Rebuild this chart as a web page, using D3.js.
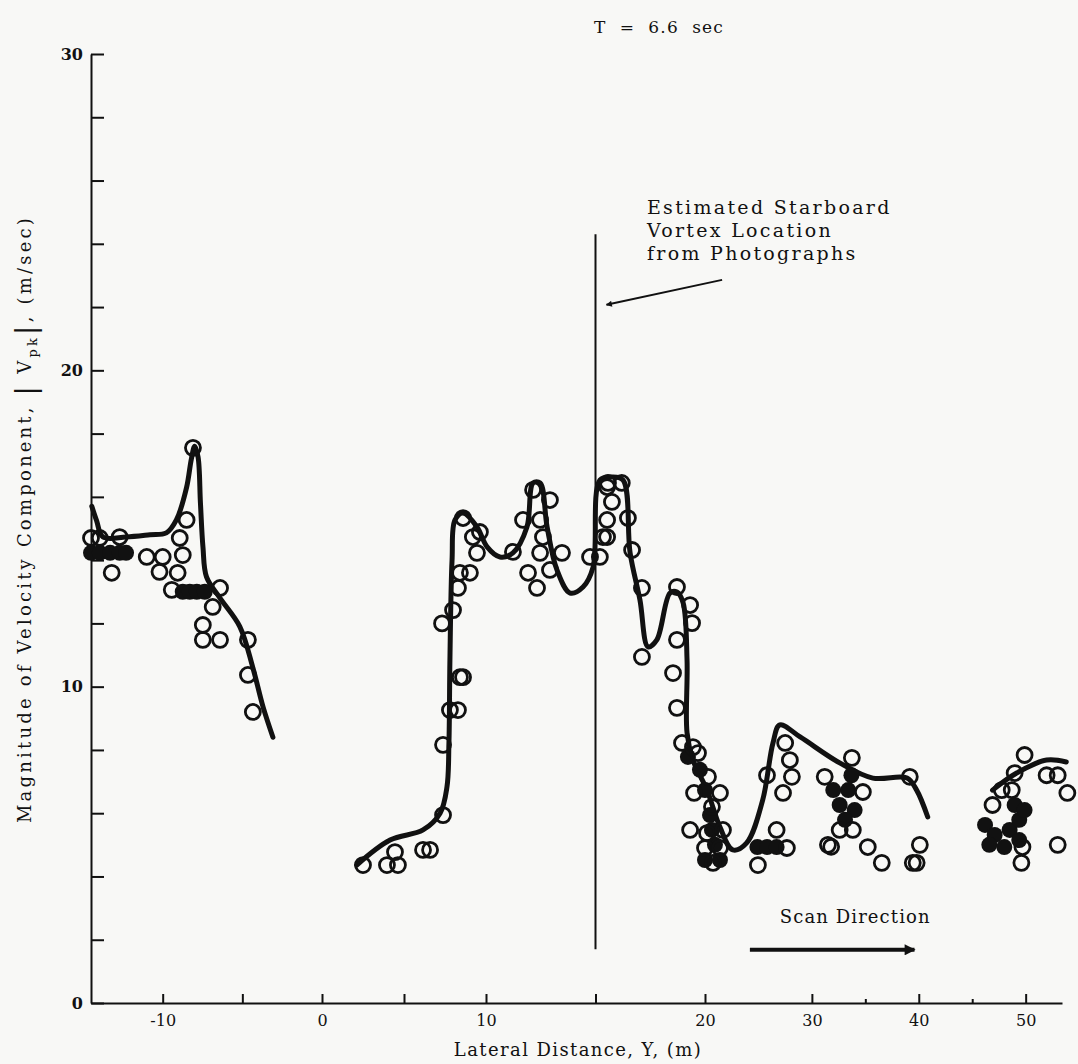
<!DOCTYPE html>
<html>
<head>
<meta charset="utf-8">
<script src="https://cdn.jsdelivr.net/npm/d3@7"></script>
<style>
  html, body { margin: 0; padding: 0; background: #f8f8f6; }
  svg { display: block; }
  .tick text { font-family: "DejaVu Serif", serif; fill: #111; }
</style>
</head>
<body>
<svg id="chart" width="1078" height="1064"></svg>
<script>
"use strict";

// ---- data ----
const title = "T = 6.6 sec";

// faired curve segments: lateral distance Y (m) and |Vpk| (m/sec)
const curve1Y = [-14.45, -14.15, -13.75, -12.3, -10.8, -9.77, -9.14, -8.5, -8.2, -7.99, -7.78, -7.63, -7.47, -7.25, -6.4, -5.16, -4.34, -3.7, -3.08];
const curve1V = [15.7, 15.25, 14.73, 14.73, 14.8, 14.86, 15.27, 16.3, 17.2, 17.6, 17.26, 15.8, 14.4, 13.47, 12.8, 11.9, 10.6, 9.36, 8.4];

const curve2Y = [2.12, 4.15, 6.16, 7.2, 7.62, 7.74, 7.8, 7.93, 8.11, 8.6, 9.45, 10.05, 10.64, 11.23, 11.87, 12.15, 12.47, 12.79, 13.24, 13.84, 14.43, 14.89, 15.2, 15.75, 16.26, 16.58, 17.03, 17.4, 17.8, 18.4, 18.72, 19.0, 19.18, 19.18, 19.45, 20.19, 21.4, 22.6, 23.9, 25.4, 26.36, 27.0, 28.9, 32.6, 35.7, 38.9, 39.8, 40.84];
const curve2V = [4.36, 5.15, 5.47, 6.0, 6.83, 8.22, 10.84, 14.0, 15.27, 15.49, 15.05, 14.42, 14.1, 14.23, 15.05, 16.44, 16.44, 15.05, 13.69, 12.96, 13.15, 13.78, 16.53, 16.63, 16.53, 14.23, 12.74, 11.26, 11.48, 12.96, 12.99, 12.65, 10.84, 8.54, 7.68, 6.73, 5.56, 4.84, 5.06, 6.42, 8.22, 8.79, 8.41, 7.59, 7.11, 7.11, 6.73, 5.88];

const curve3Y = [46.9, 49.16, 51.96, 53.8];
const curve3V = [6.73, 7.27, 7.68, 7.62];

// measured points (open circles)
const pointY = [-14.5, -13.95, -12.7, -13.2, -11.0, -10.0, -8.74, -10.2, -9.06, -9.43, -8.5, -8.93, -6.4, -6.86, -7.48, -7.48, -6.4, -4.65, -4.65, -4.34, -8.1,
  2.5, 3.96, 4.63, 4.45, 6.16, 6.59, 7.38, 7.38, 7.8, 8.29, 8.41, 8.6, 7.32, 7.99, 8.29, 8.41, 9.02, 9.45, 9.2, 9.63, 8.6,
  11.23, 11.69, 11.92, 12.33, 12.15, 12.47, 12.6, 12.47, 12.92, 12.92, 13.47, 14.75, 15.2, 15.53, 15.53, 15.53, 15.34, 15.75, 15.57, 16.2, 16.48, 16.67, 17.12, 17.12,
  18.72, 19.32, 19.41, 18.72, 18.54, 18.72, 18.95, 19.45, 19.68, 20.28, 19.5, 21.4, 20.65, 19.32, 20.19, 21.68, 20.0, 21.4, 20.75,
  24.95, 25.8, 26.7, 27.66, 27.3, 27.5, 27.94, 28.13,
  31.2, 33.74, 34.77, 32.6, 33.83, 31.5, 31.8, 35.23, 36.54, 39.16, 40.1, 39.44, 39.8,
  49.9, 48.97, 51.96, 53.0, 53.9, 48.7, 47.76, 49.7, 49.6, 53.0, 46.9];
const pointV = [14.7, 14.7, 14.73, 13.6, 14.1, 14.1, 14.16, 13.63, 13.6, 13.06, 15.27, 14.7, 13.12, 12.52, 11.95, 11.48, 11.48, 11.48, 10.37, 9.2, 17.55,
  4.36, 4.36, 4.36, 4.77, 4.84, 4.84, 5.94, 8.16, 9.26, 9.26, 10.3, 10.3, 12.0, 12.42, 13.12, 13.6, 13.6, 14.23, 14.73, 14.89, 15.33,
  14.26, 15.27, 13.6, 13.12, 16.22, 15.27, 14.73, 14.23, 15.9, 13.69, 14.23, 14.1, 14.1, 16.31, 15.27, 14.73, 14.73, 15.84, 16.44, 16.44, 15.33, 14.32, 13.12, 10.94,
  13.15, 12.58, 12.01, 11.48, 10.43, 9.33, 8.22, 8.09, 7.9, 7.15, 6.64, 6.64, 6.2, 5.47, 5.37, 5.47, 4.9, 4.9, 4.43,
  4.36, 7.2, 5.47, 4.9, 6.64, 8.22, 7.68, 7.15,
  7.15, 7.75, 6.67, 5.47, 5.47, 5.0, 4.94, 4.93, 4.43, 7.15, 5.0, 4.43, 4.43,
  7.84, 7.27, 7.2, 7.2, 6.64, 6.73, 6.73, 4.93, 4.43, 5.0, 6.26];

// places where the circles pile up into solid black
const blobY = [-14.5, -13.95, -13.3, -12.7, -12.3, -8.74, -8.3, -7.86, -7.36,
  19.22, 19.77, 20.0, 20.47, 20.65, 20.93, 20.0, 21.4, 24.9, 25.8, 26.7,
  32.0, 32.6, 33.4, 34.0, 33.1, 33.7,
  46.2, 47.1, 48.5, 49.4, 46.6, 48.0, 49.4, 48.97, 49.9];
const blobV = [14.23, 14.23, 14.23, 14.23, 14.23, 13.0, 13.0, 13.0, 13.0,
  7.78, 7.37, 6.73, 5.94, 5.47, 5.0, 4.52, 4.52, 4.93, 4.93, 4.93,
  6.73, 6.26, 6.73, 6.1, 5.79, 7.2,
  5.63, 5.31, 5.47, 5.79, 5.0, 4.93, 5.15, 6.26, 6.1];

const xTicks = [-10, -5, 0, 5, 10, 15, 20, 30, 35, 40, 45, 50];
const xLabelled = [-10, 0, 10, 20, 30, 40, 50];
const xMinor = [35, 45];
const yTicks = d3.range(0, 31, 2);
const yLabelled = [0, 10, 20, 30];

const vortexY = 15;
const vortexV = [1.7, 24.3];
const vortexNote = ["Estimated Starboard", "Vortex Location", "from Photographs"];
const vortexArrowY = [21.6, 15.5];
const vortexArrowV = [22.86, 22.07];
const scanNote = "Scan Direction";
const scanArrowY = [24.2, 39.6];
const scanArrowV = 1.68;

// ---- drawing ----
const svg = d3.select("#chart");
const ink = "#111";
const serif = "'DejaVu Serif', serif";

svg.append("rect").attr("width", 1078).attr("height", 1064).attr("fill", "#f8f8f6");

// the original abscissa is not uniform: stretched 10..20, compressed past 20
const x = d3.scaleLinear()
    .domain([-14.5, 0, 10, 20, 53.4])
    .range([91, 322, 486, 705, 1062]);
const y = d3.scaleLinear().domain([0, 30]).range([1003, 54]);

const defs = svg.append("defs");
defs.append("marker")
    .attr("id", "headThin")
    .attr("viewBox", "0 0 10 10")
    .attr("refX", 9).attr("refY", 5)
    .attr("markerWidth", 10).attr("markerHeight", 6)
    .attr("markerUnits", "userSpaceOnUse")
    .attr("orient", "auto")
    .append("path").attr("d", "M0,0 L10,5 L0,10 z").attr("fill", ink);
defs.append("marker")
    .attr("id", "headThick")
    .attr("viewBox", "0 0 10 10")
    .attr("refX", 9).attr("refY", 5)
    .attr("markerWidth", 22).attr("markerHeight", 11)
    .attr("markerUnits", "userSpaceOnUse")
    .attr("orient", "auto")
    .append("path").attr("d", "M0,0 L10,5 L0,10 z").attr("fill", ink);

// axes
const yAxis = d3.axisLeft(y)
    .tickValues(yTicks)
    .tickSizeInner(-13)
    .tickSizeOuter(0)
    .tickPadding(8)
    .tickFormat(d => yLabelled.includes(d) ? d : "");
const gy = svg.append("g").attr("transform", `translate(${x(-14.5)},0)`).call(yAxis);
gy.selectAll("text").style("font-size", "16px").style("font-weight", "bold");

const xAxis = d3.axisBottom(x)
    .tickValues(xTicks)
    .tickSizeInner(-9)
    .tickSizeOuter(0)
    .tickPadding(12)
    .tickFormat(d => xLabelled.includes(d) ? d : "");
const gx = svg.append("g").attr("transform", `translate(0,${y(0)})`).call(xAxis);
gx.selectAll("text").style("font-size", "16px");
gx.selectAll(".tick").filter(d => xMinor.includes(d)).select("line").attr("y2", -4);
svg.selectAll(".domain, .tick line").attr("stroke", ink).attr("stroke-width", 2);

// axis titles
svg.append("text")
    .attr("x", 578).attr("y", 1056)
    .attr("text-anchor", "middle")
    .attr("font-family", serif).attr("font-size", 18)
    .attr("letter-spacing", 1.4)
    .attr("fill", ink)
    .text("Lateral Distance, Y, (m)");

const yTitle = svg.append("text")
    .attr("transform", `translate(31,${y(15.3)}) rotate(-90)`)
    .attr("text-anchor", "middle")
    .attr("font-family", serif).attr("font-size", 18)
    .attr("letter-spacing", 3.2)
    .attr("fill", ink);
yTitle.append("tspan").text("Magnitude of Velocity Component, ");
yTitle.append("tspan").attr("font-size", 28).attr("dy", 4).text("|");
yTitle.append("tspan").attr("dy", -4).text(" V");
yTitle.append("tspan").attr("font-size", 13).attr("dy", 6).text("pk");
yTitle.append("tspan").attr("font-size", 28).attr("dy", -2).text("|");
yTitle.append("tspan").attr("dy", -4).text(", (m/sec)");

// chart title
svg.append("text")
    .attr("x", x(17.9)).attr("y", 33)
    .attr("text-anchor", "middle")
    .attr("font-family", serif).attr("font-size", 17)
    .attr("letter-spacing", 1.2)
    .attr("fill", ink)
    .attr("xml:space", "preserve")
    .text(title.replace(/ /g, "  "));

// vortex marker
svg.append("line")
    .attr("x1", x(vortexY)).attr("x2", x(vortexY))
    .attr("y1", y(vortexV[0])).attr("y2", y(vortexV[1]))
    .attr("stroke", ink).attr("stroke-width", 2);

const note = svg.append("text")
    .attr("font-family", serif).attr("font-size", 19)
    .attr("letter-spacing", 2.3)
    .attr("fill", ink);
note.selectAll("tspan")
    .data(vortexNote)
    .join("tspan")
    .attr("x", x(17.35))
    .attr("y", (d, i) => 214 + i * 23)
    .text(d => d);

svg.append("line")
    .attr("x1", x(vortexArrowY[0])).attr("y1", y(vortexArrowV[0]))
    .attr("x2", x(vortexArrowY[1])).attr("y2", y(vortexArrowV[1]))
    .attr("stroke", ink).attr("stroke-width", 2)
    .attr("marker-end", "url(#headThin)");

// scan direction
svg.append("text")
    .attr("x", x(27.0)).attr("y", 923)
    .attr("font-family", serif).attr("font-size", 18)
    .attr("letter-spacing", 1.1)
    .attr("fill", ink)
    .text(scanNote);
svg.append("line")
    .attr("x1", x(scanArrowY[0])).attr("x2", x(scanArrowY[1]))
    .attr("y1", y(scanArrowV)).attr("y2", y(scanArrowV))
    .attr("stroke", ink).attr("stroke-width", 4)
    .attr("marker-end", "url(#headThick)");

// curves
const line = d3.line()
    .x(d => x(d[0]))
    .y(d => y(d[1]))
    .curve(d3.curveCatmullRom.alpha(0.5));
const curves = [
    d3.zip(curve1Y, curve1V),
    d3.zip(curve2Y, curve2V),
    d3.zip(curve3Y, curve3V)
];
svg.append("g")
    .selectAll("path")
    .data(curves)
    .join("path")
    .attr("d", line)
    .attr("fill", "none")
    .attr("stroke", ink)
    .attr("stroke-width", 5)
    .attr("stroke-linecap", "round")
    .attr("stroke-linejoin", "round");

// solid piles of points
svg.append("g")
    .selectAll("circle")
    .data(d3.zip(blobY, blobV))
    .join("circle")
    .attr("cx", d => x(d[0]))
    .attr("cy", d => y(d[1]))
    .attr("r", 8)
    .attr("fill", ink);

// open circles
svg.append("g")
    .selectAll("circle")
    .data(d3.zip(pointY, pointV))
    .join("circle")
    .attr("cx", d => x(d[0]))
    .attr("cy", d => y(d[1]))
    .attr("r", 7.5)
    .attr("fill", "none")
    .attr("stroke", ink)
    .attr("stroke-width", 2.8);
</script>
</body>
</html>
